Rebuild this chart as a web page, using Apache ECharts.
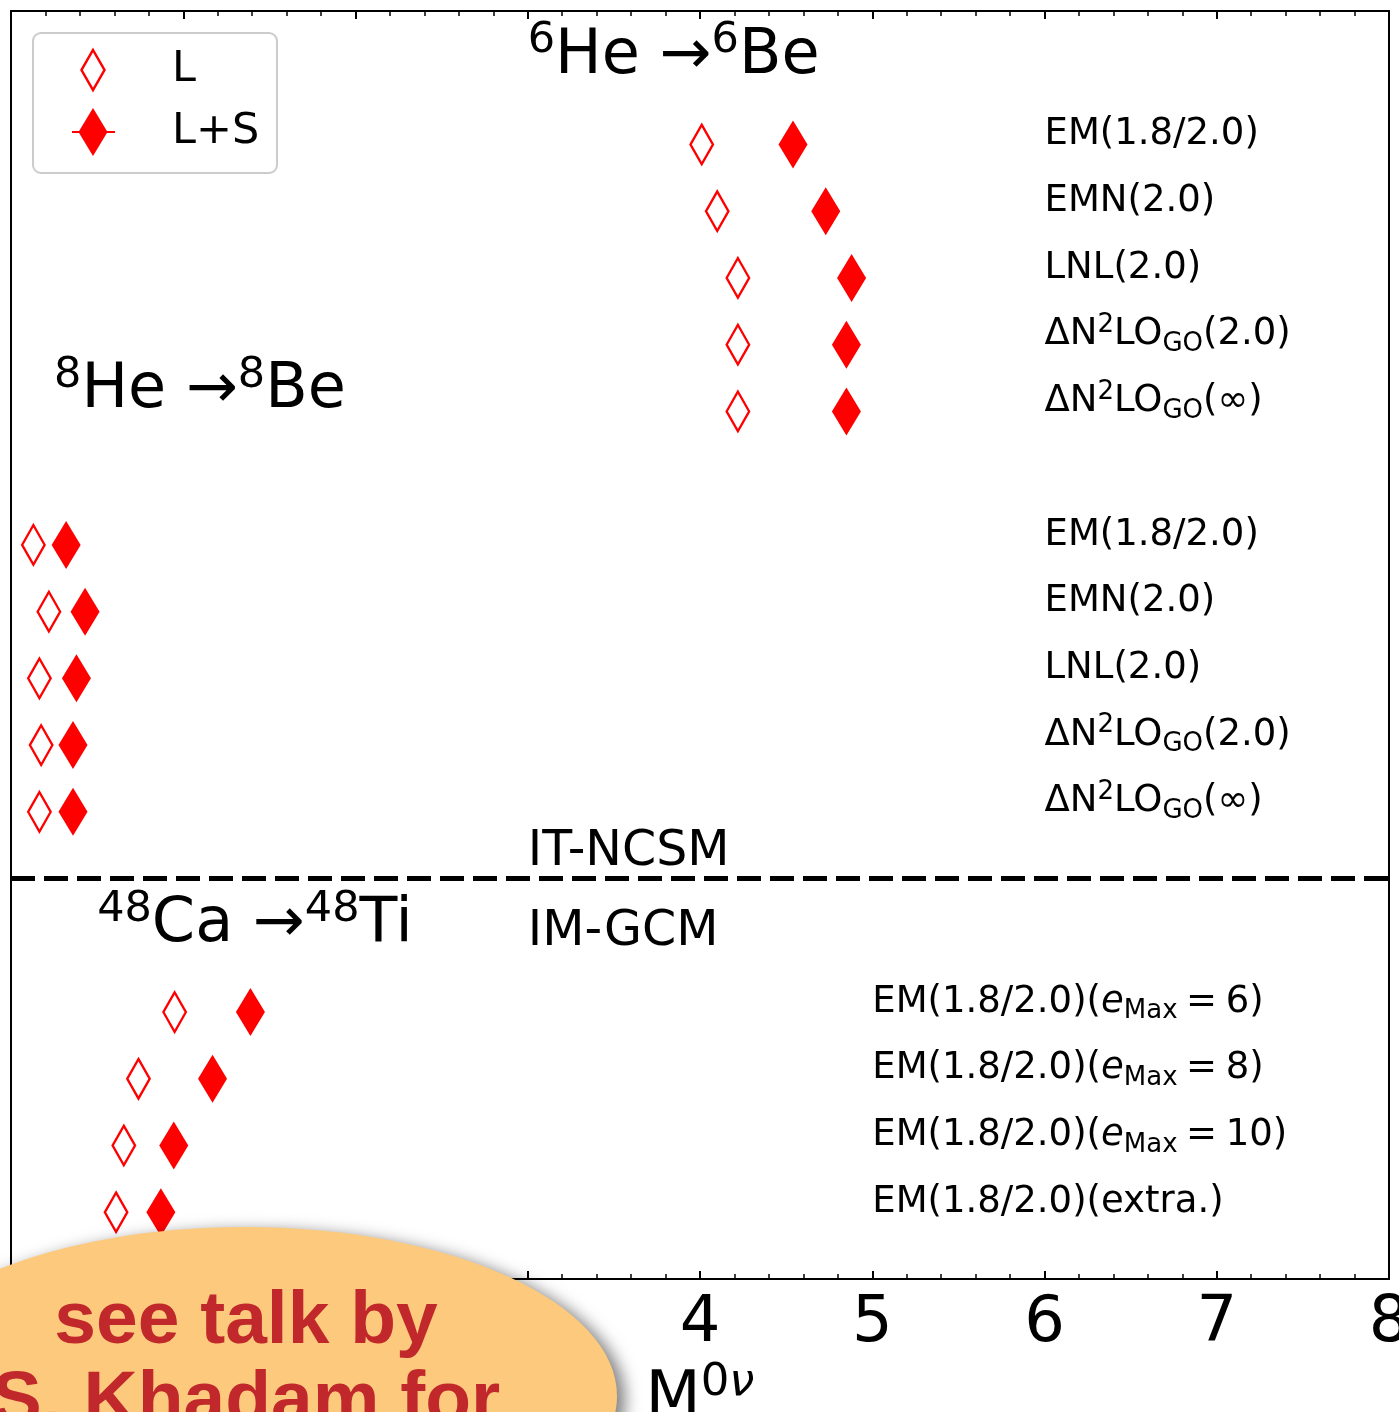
<!DOCTYPE html>
<html>
<head>
<meta charset="utf-8">
<script src="https://cdn.jsdelivr.net/npm/echarts@6/dist/echarts.min.js"></script>
<style>
  html, body { margin: 0; padding: 0; background: #ffffff; }
  #chart { width: 1399px; height: 1412px; }
</style>
</head>
<body>
<div id="chart"></div>
<script>
// ---- data ---------------------------------------------------------------
// Interaction labels (rich-text markup for super/subscripts)
const ncsmLabels = [
  'EM(1.8/2.0)',
  'EMN(2.0)',
  'LNL(2.0)',
  'ΔN{sup|2}LO{sub|GO}(2.0)',
  'ΔN{sup|2}LO{sub|GO}(∞)'
];
const gcmLabels = [
  'EM(1.8/2.0)({it|e}{sub|Max}{sp| }={sp| }6)',
  'EM(1.8/2.0)({it|e}{sub|Max}{sp| }={sp| }8)',
  'EM(1.8/2.0)({it|e}{sub|Max}{sp| }={sp| }10)',
  'EM(1.8/2.0)(extra.)'
];

// 6He -> 6Be (IT-NCSM)
const rowsHe6 = [17, 16, 15, 14, 13];
const he6L  = [4.01, 4.10, 4.22, 4.22, 4.22];
const he6LS = [4.54, 4.73, 4.88, 4.85, 4.85];

// 8He -> 8Be (IT-NCSM)
const rowsHe8 = [11, 10, 9, 8, 7];
const he8L  = [0.13, 0.22, 0.165, 0.175, 0.165];
const he8LS = [0.32, 0.43, 0.38, 0.36, 0.36];

// 48Ca -> 48Ti (IM-GCM)
const rowsCa48 = [4, 3, 2, 1];
const ca48L  = [0.95, 0.74, 0.655, 0.61];
const ca48LS = [1.39, 1.17, 0.945, 0.87];

const xTicks = [0, 1, 2, 3, 4, 5, 6, 7, 8];
const separatorRow = 6;

// ---- helpers --------------------------------------------------------------
const FONT = '"DejaVu Sans", sans-serif';
const RED = '#ff0000';
const BASELINE_RATIO = 0.27;   // distance from text middle to baseline, per px of font size

function pairs(xs, ys) { return xs.map((x, i) => [x, ys[i]]); }

const lData  = [].concat(pairs(he6L, rowsHe6), pairs(he8L, rowsHe8), pairs(ca48L, rowsCa48));
const lsData = [].concat(pairs(he6LS, rowsHe6), pairs(he8LS, rowsHe8), pairs(ca48LS, rowsCa48));

// row labels: text baseline sits on the row
const rowLabelData = []
  .concat(ncsmLabels.map((t, i) => ({ name: t, value: [6, rowsHe6[i]] })))
  .concat(ncsmLabels.map((t, i) => ({ name: t, value: [6, rowsHe8[i]] })))
  .concat(gcmLabels.map((t, i) => ({ name: t, value: [5, rowsCa48[i]] })));

const ROW_FONT = 37;
const rowRich = {
  sup: { fontFamily: FONT, fontSize: 26, lineHeight: 31, verticalAlign: 'top', color: '#000' },
  sub: { fontFamily: FONT, fontSize: 26, lineHeight: 27, verticalAlign: 'bottom', color: '#000' },
  it:  { fontFamily: FONT, fontSize: ROW_FONT, lineHeight: 45, fontStyle: 'italic', color: '#000' },
  sp:  { fontFamily: FONT, fontSize: 27, lineHeight: 27, color: '#000' }
};

const titleRich = {
  s: { fontFamily: FONT, fontSize: 43, lineHeight: 45, verticalAlign: 'top', color: '#000' }
};

function title(text, x, y, size) {
  return {
    name: text,
    value: [x, y],
    label: {
      fontSize: size,
      lineHeight: size === 62 ? 74 : 58,
      offset: [0, -Math.round(size * BASELINE_RATIO)]
    }
  };
}

const annotations = [
  title('{s|6}He →{s|6}Be', 3.0, 18.06, 62),
  title('{s|8}He →{s|8}Be', 0.25, 13.05, 62),
  title('{s|48}Ca →{s|48}Ti', 0.5, 5.05, 62),
  title('IT-NCSM', 3.0, 6.2, 49),
  title('IM-GCM', 3.0, 5.0, 49)
];

const tickAxisCommon = {
  type: 'value',
  min: 0,
  max: 8,
  interval: 1,
  axisLine: { show: false },
  splitLine: { show: false },
  axisTick: { show: true, inside: true, length: 8, lineStyle: { color: '#000', width: 2 } },
  minorTick: { show: true, splitNumber: 5, length: 5, lineStyle: { color: '#000', width: 1.5 } },
  minorSplitLine: { show: false }
};

const chart = echarts.init(document.getElementById('chart'), null, { renderer: 'canvas' });

chart.setOption({
  animation: false,
  backgroundColor: '#ffffff',
  grid: {
    left: 11, right: 10, top: 11, bottom: 133,
    containLabel: false,
    outerBoundsMode: 'none',
    show: true, borderColor: '#000', borderWidth: 2, backgroundColor: 'transparent'
  },
  xAxis: [
    Object.assign({}, tickAxisCommon, {
      position: 'bottom',
      axisLabel: {
        show: true, margin: 13, color: '#000', fontFamily: FONT, fontSize: 64,
        hideOverlap: false,
        formatter: v => (xTicks.indexOf(v) >= 0 ? String(v) : '')
      },
      name: '{m|M}{s|0}{nu|ν}',
      nameLocation: 'middle',
      nameGap: 74,
      nameTextStyle: {
        rich: {
          m:  { fontFamily: FONT, fontSize: 64, lineHeight: 76, color: '#000' },
          s:  { fontFamily: FONT, fontSize: 45, lineHeight: 45, verticalAlign: 'top', color: '#000' },
          nu: { fontFamily: FONT, fontSize: 45, lineHeight: 45, verticalAlign: 'top', fontStyle: 'italic', color: '#000' }
        }
      }
    }),
    Object.assign({}, tickAxisCommon, {
      position: 'top',
      axisLabel: { show: false }
    })
  ],
  yAxis: {
    type: 'value', min: 0, max: 19,
    axisLine: { show: false }, axisTick: { show: false },
    axisLabel: { show: false }, splitLine: { show: false }
  },
  series: [
    {
      name: 'L',
      type: 'scatter',
      data: lData,
      symbol: 'diamond',
      symbolSize: [22.5, 39.5],
      itemStyle: { color: '#ffffff', borderColor: RED, borderWidth: 2.5, opacity: 1 },
      emphasis: { disabled: true },
      z: 3
    },
    {
      name: 'L+S',
      type: 'scatter',
      data: lsData,
      symbol: 'diamond',
      symbolSize: [29, 48],
      itemStyle: { color: RED, opacity: 1 },
      emphasis: { disabled: true },
      z: 3
    },
    {
      name: 'rowLabels',
      type: 'scatter',
      data: rowLabelData,
      symbolSize: 0,
      silent: true,
      itemStyle: { opacity: 1 },
      label: {
        show: true,
        position: 'right',
        distance: 0,
        offset: [0, -Math.round(ROW_FONT * BASELINE_RATIO)],
        formatter: p => p.name,
        color: '#000',
        opacity: 1,
        fontFamily: FONT,
        fontSize: ROW_FONT,
        lineHeight: 45,
        rich: rowRich
      },
      emphasis: { disabled: true },
      z: 4
    },
    {
      name: 'annotations',
      type: 'scatter',
      data: annotations,
      symbolSize: 0,
      silent: true,
      itemStyle: { opacity: 1 },
      label: {
        show: true,
        position: 'right',
        distance: 0,
        formatter: p => p.name,
        color: '#000',
        opacity: 1,
        fontFamily: FONT,
        rich: titleRich
      },
      markLine: {
        silent: true,
        symbol: ['none', 'none'],
        label: { show: false },
        lineStyle: { color: '#000', width: 5, type: [24, 9], opacity: 1 },
        emphasis: { disabled: true },
        data: [{ yAxis: separatorRow }]
      },
      emphasis: { disabled: true },
      z: 4
    }
  ],
  graphic: [
    // legend
    {
      type: 'group', z: 50,
      children: [
        { type: 'rect', z: 50, shape: { x: 33, y: 33, width: 244, height: 140, r: 8 },
          style: { fill: 'rgba(255,255,255,0.85)', stroke: '#cccccc', lineWidth: 2 } },
        { type: 'polygon', z: 51, shape: { points: [[93, 50], [104.5, 70], [93, 90], [81.5, 70]] },
          style: { fill: '#ffffff', stroke: RED, lineWidth: 2.5 } },
        { type: 'text', z: 51, x: 172, y: 70,
          style: { text: 'L', font: '43px "DejaVu Sans"', fill: '#000', align: 'left', verticalAlign: 'middle' } },
        { type: 'line', z: 51, shape: { x1: 72, y1: 132, x2: 115, y2: 132 },
          style: { stroke: RED, lineWidth: 2 } },
        { type: 'polygon', z: 52, shape: { points: [[93, 108], [107.5, 132], [93, 156], [78.5, 132]] },
          style: { fill: RED } },
        { type: 'text', z: 51, x: 172, y: 132,
          style: { text: 'L+S', font: '43px "DejaVu Sans"', fill: '#000', align: 'left', verticalAlign: 'middle' } }
      ]
    },
    // talk callout, on its own layer above the axes
    {
      type: 'group', zlevel: 5, z: 100,
      children: [
        { type: 'ellipse', zlevel: 5, z: 100, shape: { cx: 245, cy: 1396, rx: 372, ry: 169 },
          style: { fill: '#FDC97C', shadowBlur: 16, shadowColor: 'rgba(0,0,0,0.5)', shadowOffsetX: 8, shadowOffsetY: 4 } },
        { type: 'text', zlevel: 5, z: 101, x: 246, y: 1322,
          style: { text: 'see talk by', font: 'bold 75px "Liberation Sans"', fill: '#C0282C', align: 'center', verticalAlign: 'middle' } },
        { type: 'text', zlevel: 5, z: 101, x: 246, y: 1402,
          style: { text: 'S. Khadam for', font: 'bold 75px "Liberation Sans"', fill: '#C0282C', align: 'center', verticalAlign: 'middle' } }
      ]
    }
  ]
});
</script>
</body>
</html>
